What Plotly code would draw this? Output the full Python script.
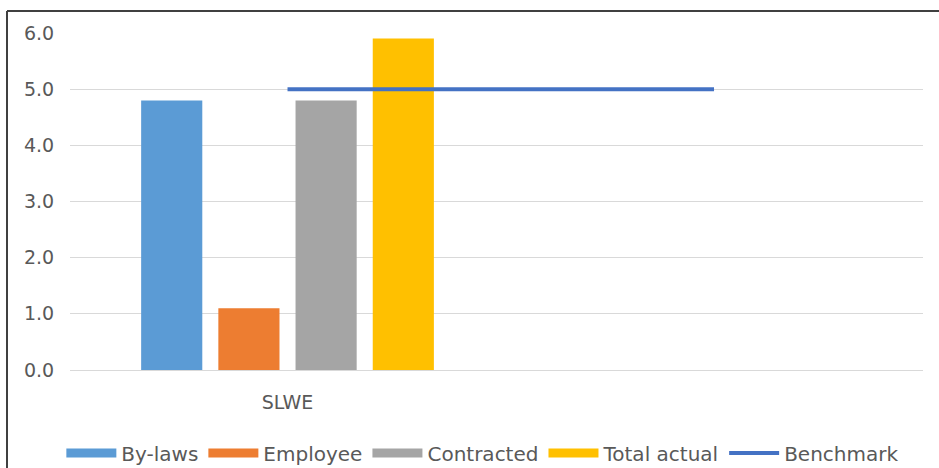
import plotly.graph_objects as go

# Staff ratios for SLWE compared with the benchmark
category_positions = [0, 1]
category_labels = ["SLWE", ""]

series_names = ["By-laws", "Employee", "Contracted", "Total actual"]
series_values = [4.8, 1.1, 4.8, 5.9]
series_colors = ["#5B9BD5", "#ED7D31", "#A5A5A5", "#FFC000"]

benchmark_name = "Benchmark"
benchmark_values = [5.0, 5.0]
benchmark_color = "#4472C4"

y_ticks = [0, 1, 2, 3, 4, 5, 6]

W, H = 939, 468
L, R, T, B = 70, 16, 33, 98
plot_w = W - L - R
plot_h = H - T - B

font_family = "DejaVu Sans"
text_color = "#595959"
grid_color = "#D9D9D9"

fig = go.Figure()

for name, val, col in zip(series_names, series_values, series_colors):
    fig.add_trace(go.Bar(
        x=[category_positions[0]], y=[val], name=name,
        marker=dict(color=col, line=dict(width=0)),
        legendgroup=name, showlegend=False,
    ))

for name, col in zip(series_names, series_colors):
    # wide flat swatch for the legend entry of each bar series
    fig.add_trace(go.Scatter(
        x=[None], y=[None], mode="lines", name=name,
        line=dict(color=col, width=9), legendgroup=name,
    ))

fig.add_trace(go.Scatter(
    x=category_positions, y=benchmark_values, mode="lines",
    name=benchmark_name, line=dict(color=benchmark_color, width=4),
))


def px_x(p):
    return (p - L) / plot_w


def px_y(p):
    return (H - B - p) / plot_h


# outer chart frame (left and top edges)
frame = dict(color="#404040", width=2)
fig.add_shape(type="line", xref="paper", yref="paper",
              x0=px_x(7), x1=px_x(7), y0=px_y(11), y1=px_y(490), line=frame)
fig.add_shape(type="line", xref="paper", yref="paper",
              x0=px_x(7), x1=px_x(960), y0=px_y(11), y1=px_y(11), line=frame)

fig.update_layout(
    width=W, height=H,
    margin=dict(l=L, r=R, t=T, b=B, autoexpand=False),
    paper_bgcolor="white", plot_bgcolor="white",
    font=dict(family=font_family, size=19, color=text_color),
    barmode="group", bargap=0.276, bargroupgap=0.208,
    showlegend=True,
    legend=dict(
        orientation="h", x=0.484, xanchor="center", y=px_y(453), yanchor="middle",
        font=dict(family=font_family, size=20, color=text_color),
        itemwidth=50, traceorder="normal", bgcolor="rgba(0,0,0,0)",
    ),
    xaxis=dict(
        range=[-0.51, 1.49], tickvals=category_positions, ticktext=category_labels,
        showgrid=False, zeroline=False, showline=True, linecolor=grid_color, linewidth=1,
        ticks="outside", ticklen=0, ticklabelstandoff=15,
        tickfont=dict(family=font_family, size=19, color=text_color),
        fixedrange=True,
    ),
    yaxis=dict(
        range=[0, 6], tickvals=y_ticks, tickformat=".1f",
        showgrid=True, gridcolor=grid_color, gridwidth=1,
        zeroline=False, showline=False,
        ticks="outside", ticklen=0, ticklabelstandoff=11,
        tickfont=dict(family=font_family, size=19, color=text_color),
        fixedrange=True,
    ),
)

fig.write_html("out.html")
